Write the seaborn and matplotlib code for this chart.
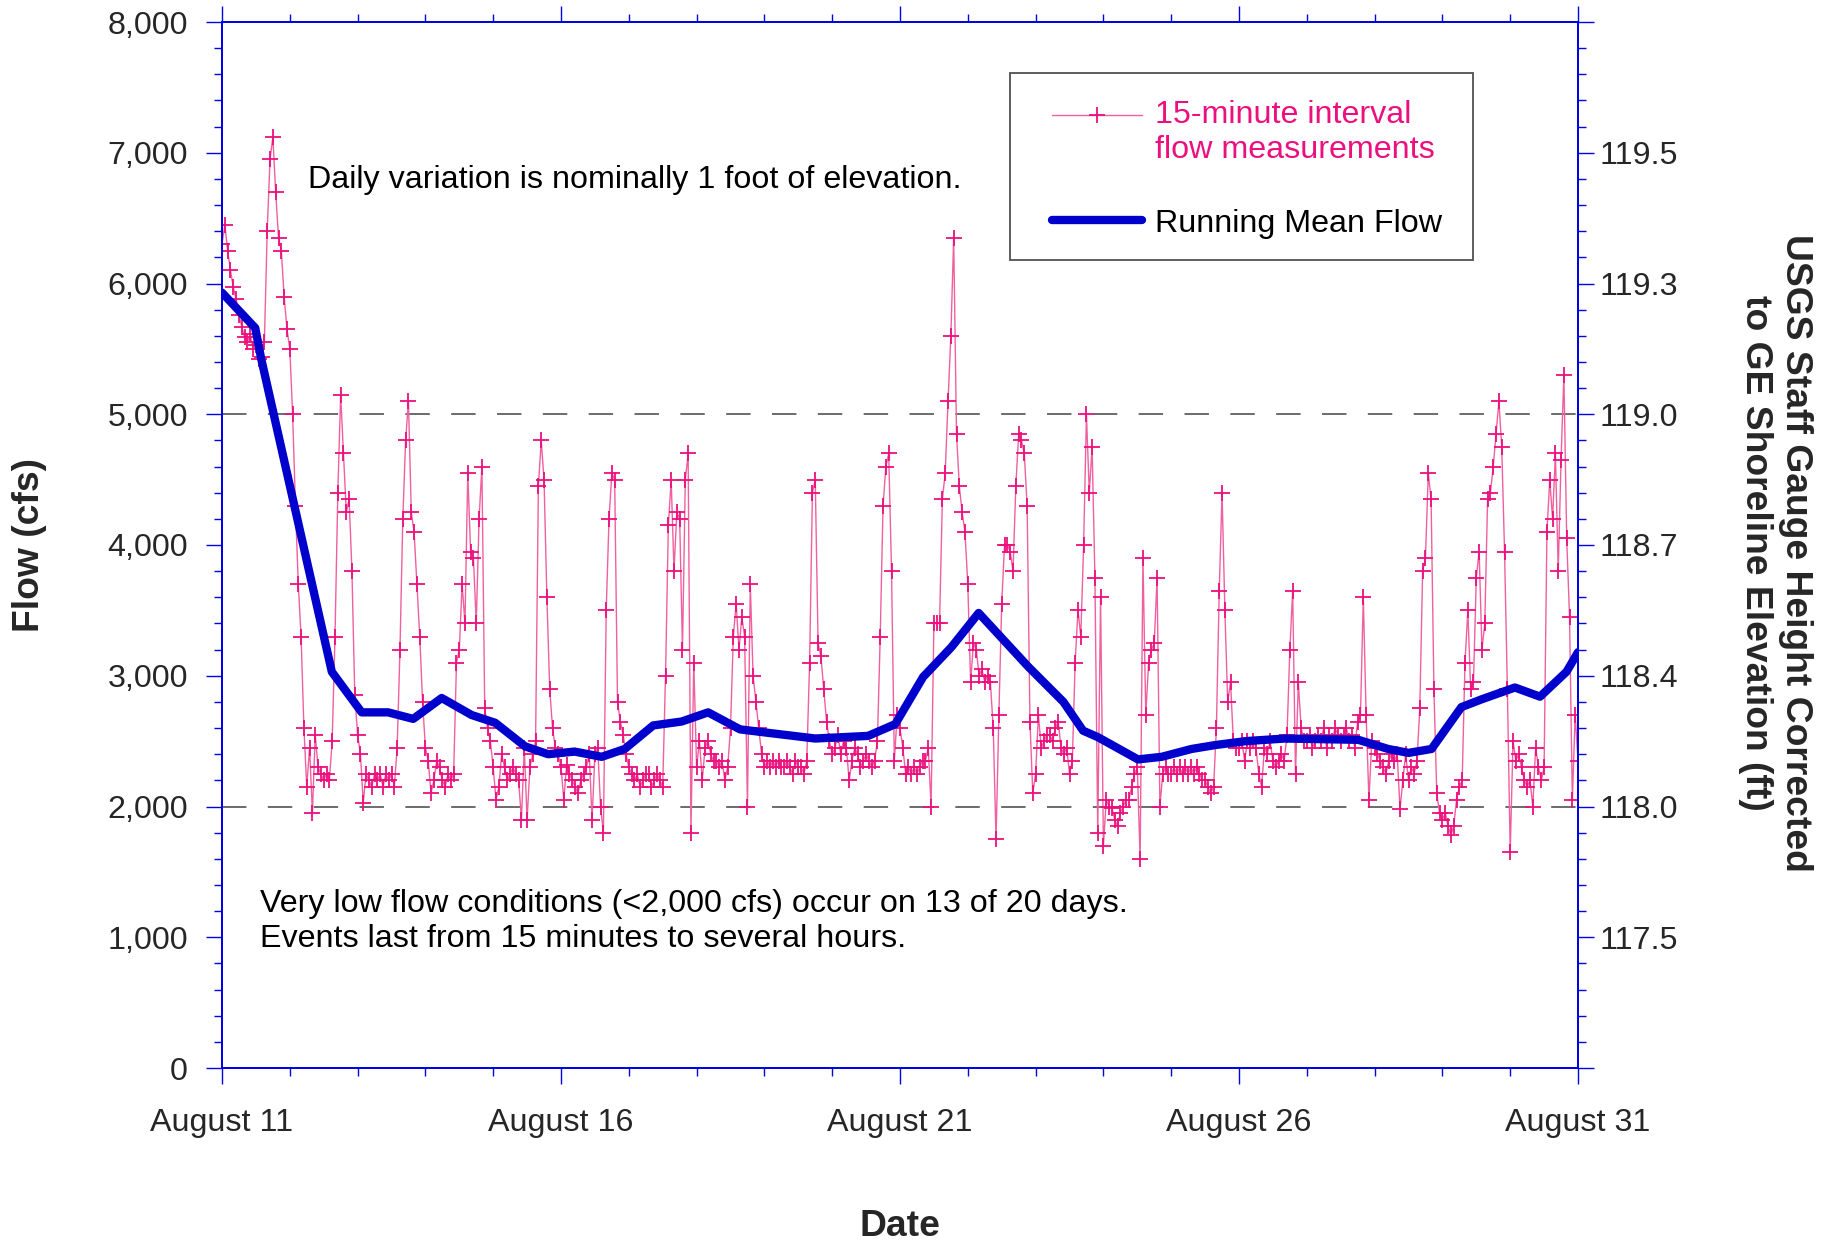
import numpy as np
import pandas as pd
import matplotlib
matplotlib.use("Agg")
import matplotlib.pyplot as plt
import matplotlib.patches as mpatches
from matplotlib.ticker import MultipleLocator, FixedLocator
from matplotlib.legend_handler import HandlerLine2D
import seaborn as sns

# ---------------- data (hourly readings, cfs) ----------------
aug11 = [6300, 6450, 6250, 6100, 5970, 5880, 5760, 5670, 5590, 5550, 5610, 5500, 5530, 5420, 5440, 5550, 6400, 6950, 7120, 6700, 6350, 6250, 5900, 5650]
aug12 = [5500, 5000, 4300, 3700, 3300, 2600, 2150, 2450, 1950, 2550, 2300, 2250, 2200, 2250, 2200, 2500, 3300, 4400, 5150, 4700, 4250, 4350, 3800, 2850]
aug13 = [2550, 2400, 2030, 2250, 2200, 2150, 2250, 2200, 2250, 2150, 2250, 2200, 2250, 2150, 2450, 3200, 4200, 4800, 5100, 4250, 4100, 3700, 3300, 2800]
aug14 = [2450, 2350, 2100, 2200, 2350, 2300, 2200, 2150, 2250, 2200, 2250, 3100, 3200, 3700, 3400, 4550, 3950, 3900, 3400, 4200, 4600, 2750, 2600, 2500]
aug15 = [2300, 2050, 2150, 2400, 2300, 2200, 2250, 2300, 2250, 2200, 1900, 2450, 1900, 2300, 2400, 2500, 4450, 4800, 4500, 3600, 2900, 2600, 2450, 2400]
aug16 = [2300, 2050, 2320, 2250, 2200, 2150, 2100, 2200, 2250, 2300, 2400, 1900, 2400, 2450, 2000, 1800, 3500, 4200, 4550, 4500, 2800, 2650, 2550, 2400]
aug17 = [2300, 2250, 2200, 2250, 2150, 2200, 2250, 2250, 2150, 2200, 2250, 2200, 2150, 3000, 4150, 4500, 3800, 4250, 4200, 3200, 4500, 4700, 1800, 3100]
aug18 = [2300, 2500, 2200, 2450, 2500, 2400, 2350, 2350, 2300, 2350, 2200, 2300, 2600, 3300, 3550, 3200, 3450, 3300, 2000, 3700, 3000, 2800, 2600, 2400]
aug19 = [2300, 2350, 2300, 2350, 2300, 2350, 2300, 2300, 2350, 2300, 2250, 2350, 2300, 2300, 2250, 2350, 3100, 4400, 4500, 3250, 3150, 2900, 2650, 2500]
aug20 = [2400, 2450, 2550, 2400, 2500, 2450, 2200, 2350, 2450, 2400, 2300, 2350, 2400, 2350, 2300, 2350, 2500, 3300, 4300, 4600, 4700, 3800, 2350, 2700]
aug21 = [2600, 2450, 2250, 2300, 2250, 2300, 2250, 2300, 2350, 2350, 2450, 2000, 3400, 3400, 3400, 4350, 4550, 5100, 5600, 6350, 4850, 4450, 4250, 4100]
aug22 = [3700, 2950, 3250, 3200, 3000, 3050, 2950, 3000, 2950, 2600, 1750, 2700, 3550, 4000, 4000, 3950, 3800, 4450, 4850, 4800, 4700, 4300, 2650, 2100]
aug23 = [2250, 2700, 2450, 2500, 2550, 2550, 2500, 2600, 2650, 2450, 2400, 2450, 2250, 2350, 3100, 3500, 3300, 4000, 5000, 4400, 4750, 3750, 1800, 3600]
aug24 = [1700, 2050, 2000, 1990, 1900, 1850, 1950, 2000, 2050, 2050, 2150, 2250, 2300, 1600, 3900, 2700, 3100, 3200, 3250, 3750, 2000, 2250, 2300, 2250]
aug25 = [2250, 2300, 2250, 2300, 2250, 2300, 2250, 2300, 2250, 2300, 2250, 2200, 2200, 2150, 2100, 2150, 2600, 3650, 4400, 3500, 2800, 2950, 2500, 2450]
aug26 = [2450, 2500, 2350, 2500, 2450, 2500, 2450, 2250, 2150, 2450, 2400, 2500, 2350, 2300, 2350, 2400, 2350, 2550, 3200, 3650, 2250, 2950, 2600, 2500]
aug27 = [2500, 2550, 2450, 2500, 2550, 2500, 2600, 2450, 2550, 2500, 2600, 2550, 2500, 2550, 2600, 2500, 2550, 2450, 2650, 2700, 3600, 2700, 2050, 2500]
aug28 = [2450, 2400, 2350, 2300, 2250, 2350, 2400, 2350, 2400, 1980, 2200, 2400, 2200, 2300, 2250, 2350, 2750, 3800, 3900, 4550, 4350, 2900, 2100, 1950]
aug29 = [1900, 1950, 1850, 1780, 1850, 2050, 2150, 2200, 3100, 3500, 2900, 2950, 3750, 3950, 3200, 3400, 4350, 4400, 4600, 4850, 5100, 4750, 3950, 2900]
aug30 = [1650, 2500, 2350, 2400, 2300, 2200, 2150, 2200, 2000, 2450, 2300, 2200, 2300, 4100, 4500, 4200, 4700, 3800, 4650, 5300, 4050, 3450, 2050, 2700]
aug31 = [2350]

# running mean flow (day offset from Aug 11, cfs)
mean_days = [0, 0.49, 0.58, 1.62, 2.06, 2.45, 2.82, 3.24, 3.68, 4.03, 4.47, 4.81, 5.2, 5.6, 5.94,
             6.36, 6.78, 7.17, 7.64, 8.11, 8.75, 9.53, 9.93, 10.34, 10.76, 11.16, 11.89, 12.41,
             12.7, 12.92, 13.51, 13.86, 14.3, 14.65, 15.1, 15.68, 16.76, 17.2, 17.5, 17.84,
             18.28, 18.58, 19.07, 19.44, 19.83, 20.0]
mean_flow = [5930, 5660, 5420, 3030, 2720, 2720, 2670, 2830, 2700, 2640, 2460, 2400, 2420, 2380, 2440,
             2620, 2650, 2720, 2590, 2560, 2520, 2540, 2630, 2990, 3220, 3480, 3070, 2800,
             2580, 2530, 2360, 2380, 2440, 2470, 2500, 2520, 2510, 2440, 2410, 2440,
             2760, 2820, 2910, 2840, 3030, 3180]

date_ticks = [0, 5, 10, 15, 20]
date_labels = ["August 11", "August 16", "August 21", "August 26", "August 31"]
flow_ticks = [0, 1000, 2000, 3000, 4000, 5000, 6000, 7000, 8000]
flow_labels = ["0", "1,000", "2,000", "3,000", "4,000", "5,000", "6,000", "7,000", "8,000"]
elev_labels = ["", "117.5", "118.0", "118.4", "118.7", "119.0", "119.3", "119.5", ""]
reference_flows = [2000, 5000]

# ---------------- assemble ----------------
daily = [aug11, aug12, aug13, aug14, aug15, aug16, aug17, aug18, aug19, aug20,
         aug21, aug22, aug23, aug24, aug25, aug26, aug27, aug28, aug29, aug30]
times, flows = [], []
for d, vals in enumerate(daily):
    for h, v in enumerate(vals):
        times.append(d + h / 24.0)
        flows.append(v)
times.append(20.0)
flows.append(aug31[0])
df15 = pd.DataFrame({"day": times, "flow": flows})
dfm = pd.DataFrame({"day": mean_days, "flow": mean_flow})

# ---------------- style ----------------
sns.set_theme(style="white")
plt.rcParams["font.family"] = ["Liberation Sans", "DejaVu Sans"]

AXBLUE = "#0000E6"
PINK = "#EC0F7E"
PINKLINE = "#F0609F"
MEANBLUE = "#0000CC"
FS = 23.2
LFS = 26.8

fig = plt.figure(figsize=(18.35, 12.41), dpi=100)
ax = fig.add_axes([222 / 1835, 1 - 1068 / 1241, 1356 / 1835, 1046 / 1241])

for yv in reference_flows:
    ax.axhline(yv, color="#444444", lw=1.1, ls=(0, (16, 14)), zorder=1)

sns.lineplot(data=df15, x="day", y="flow", ax=ax, estimator=None, sort=False,
             color=PINKLINE, lw=1.0, marker="+", markersize=11,
             markeredgecolor=PINK, markeredgewidth=1.3, zorder=2,
             label="15-minute interval\nflow measurements", legend=False)
pink_line = ax.lines[-1]
sns.lineplot(data=dfm, x="day", y="flow", ax=ax, estimator=None, sort=False,
             color=MEANBLUE, lw=6.0, zorder=3, label="Running Mean Flow", legend=False)
mean_line = ax.lines[-1]

ax.set_xlim(0, 20)
ax.set_ylim(0, 8000)
ax.xaxis.set_major_locator(FixedLocator(date_ticks))
ax.set_xticklabels(date_labels)
ax.xaxis.set_minor_locator(MultipleLocator(1))
ax.yaxis.set_major_locator(FixedLocator(flow_ticks))
ax.set_yticklabels(flow_labels)
ax.yaxis.set_minor_locator(MultipleLocator(200))

ax.tick_params(axis="x", which="both", direction="out", bottom=True, top=True,
               color=AXBLUE, labelsize=FS, pad=17)
ax.tick_params(axis="y", which="both", direction="out", left=True, right=False,
               color=AXBLUE, labelsize=FS, pad=13)
ax.tick_params(which="major", length=11.5, width=1.0)
ax.tick_params(which="minor", length=5.8, width=1.0)

for s in ax.spines.values():
    s.set_color(AXBLUE)
    s.set_linewidth(1.3)

ax2 = ax.twinx()
ax2.set_ylim(0, 8000)
ax2.yaxis.set_major_locator(FixedLocator(flow_ticks))
ax2.set_yticklabels(elev_labels)
ax2.yaxis.set_minor_locator(MultipleLocator(200))
ax2.tick_params(axis="y", which="both", direction="out", right=True, left=False,
                color=AXBLUE, labelsize=FS, pad=4)
ax2.tick_params(which="major", length=11.5, width=1.0)
ax2.tick_params(which="minor", length=5.8, width=1.0)
for s in ax2.spines.values():
    s.set_color(AXBLUE)
    s.set_linewidth(1.3)

# axis labels
ax.set_xlabel("Date", fontsize=LFS, fontweight="bold")
ax.xaxis.set_label_coords(0.5, -0.152)
ax.xaxis.label.set_va("center")
ax.set_ylabel("Flow (cfs)", fontsize=LFS, fontweight="bold")
ax.yaxis.label.set(rotation_mode="default", ha="center", va="center")
ax.yaxis.set_label_coords(-0.1423, 0.5)
ax2.set_ylabel("USGS Staff Gauge Height Corrected\nto GE Shoreline Elevation (ft)",
               fontsize=LFS, fontweight="bold", rotation=270)
ax2.yaxis.label.set(rotation_mode="default", ha="center", va="center", multialignment="center")
ax2.yaxis.set_label_coords(1.1457, 0.492)

# annotations
ax.text(1.27, 6790, "Daily variation is nominally 1 foot of elevation.",
        fontsize=FS, ha="left", va="center", color="black")
ax.text(0.56, 1255, "Very low flow conditions (<2,000 cfs) occur on 13 of 20 days.",
        fontsize=FS, ha="left", va="center", color="black")
ax.text(0.56, 988, "Events last from 15 minutes to several hours.",
        fontsize=FS, ha="left", va="center", color="black")


# legend handle aligned with the first line of a two-line label
class TopLineHandler(HandlerLine2D):
    def __init__(self, shift, **kw):
        super().__init__(**kw)
        self.shift = shift

    def create_artists(self, legend, orig_handle, xdescent, ydescent, width, height,
                       fontsize, trans):
        arts = super().create_artists(legend, orig_handle, xdescent, ydescent, width,
                                      height, fontsize, trans)
        for a in arts:
            a.set_ydata(np.asarray(a.get_ydata(), dtype=float) + self.shift * fontsize)
        return arts


frame = mpatches.Rectangle((0.581, 0.7725), 0.3414, 0.1788, transform=ax.transAxes,
                           facecolor="white", edgecolor="#505050", lw=1.3, zorder=4)
ax.add_patch(frame)
leg = ax.legend([pink_line, mean_line],
                ["15-minute interval\nflow measurements", "Running Mean Flow"],
                loc="upper left", bbox_to_anchor=(0.612, 0.925), frameon=False,
                fontsize=FS, handlelength=2.8, handletextpad=0.4, labelspacing=1.35,
                borderpad=0, borderaxespad=0, numpoints=1,
                handler_map={pink_line: TopLineHandler(0.55)})
leg.set_zorder(5)
leg.get_texts()[0].set_color(PINK)
leg.get_texts()[1].set_color("black")

fig.savefig("out.png", dpi=100)
